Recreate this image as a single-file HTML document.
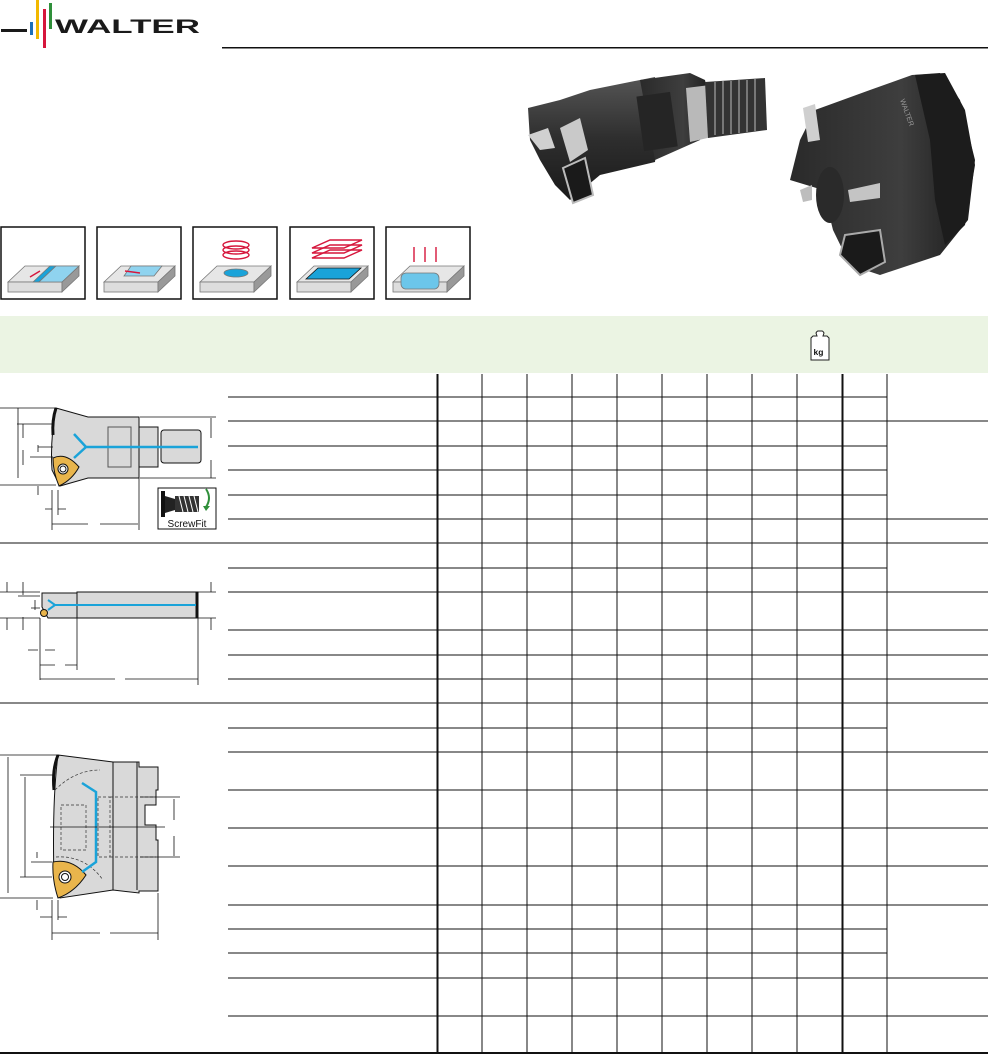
<!DOCTYPE html>
<html><head><meta charset="utf-8"><style>
html,body{margin:0;padding:0;background:#fff;}
body{width:988px;height:1055px;position:relative;overflow:hidden;font-family:"Liberation Sans",sans-serif;}
svg{position:absolute;left:0;top:0;}
</style></head><body>
<svg width="988" height="1055" viewBox="0 0 988 1055" xmlns="http://www.w3.org/2000/svg">
<defs>
<linearGradient id="steel" x1="0" y1="0" x2="0" y2="1"><stop offset="0" stop-color="#555"/><stop offset="0.5" stop-color="#2e2e2e"/><stop offset="1" stop-color="#1a1a1a"/></linearGradient>
<linearGradient id="steel2" x1="0" y1="0" x2="1" y2="0"><stop offset="0" stop-color="#2a2a2a"/><stop offset="0.6" stop-color="#3e3e3e"/><stop offset="1" stop-color="#1b1b1b"/></linearGradient>
<linearGradient id="blk" x1="0" y1="0" x2="0" y2="1"><stop offset="0" stop-color="#f4f4f4"/><stop offset="1" stop-color="#cfcfcf"/></linearGradient>
</defs>
<!-- Logo -->
<rect x="1" y="29" width="26" height="3" fill="#1a1a1a"/>
<rect x="30" y="22" width="3" height="13" fill="#1d6fb8"/>
<rect x="36" y="0" width="3" height="39" fill="#f2b800"/>
<rect x="43" y="9" width="3" height="39" fill="#d6163c"/>
<rect x="49" y="3" width="3" height="26" fill="#2f8f3a"/>
<text x="55" y="33" font-family="Liberation Sans,sans-serif" font-weight="bold" font-size="19" fill="#1a1a1a" textLength="145" lengthAdjust="spacingAndGlyphs">WALTER</text>
<rect x="222" y="47" width="766" height="1.5" fill="#111"/>

<!-- Icons -->
<g stroke="#111" stroke-width="1.5" fill="#fff">
<rect x="1" y="227" width="84" height="72"/><rect x="97" y="227" width="84" height="72"/><rect x="193" y="227" width="84" height="72"/><rect x="290" y="227" width="84" height="72"/><rect x="386" y="227" width="84" height="72"/>
</g>
<g stroke="#777" stroke-width="0.8">
<g transform="translate(0,0)"><polygon points="8,282 25,266 79,266 62,282" fill="#e6e6e6"/><rect x="8" y="282" width="54" height="10" fill="#ddd"/><polygon points="62,282 79,266 79,276 62,292" fill="#999"/><polygon points="33,282 50,266 56,266 39,282" fill="#1aa3d9"/><polygon points="39,282 56,266 79,266 62,282" fill="#8fd3ef"/></g>
<g transform="translate(96,0)"><polygon points="8,282 25,266 79,266 62,282" fill="#e6e6e6"/><rect x="8" y="282" width="54" height="10" fill="#ddd"/><polygon points="62,282 79,266 79,276 62,292" fill="#999"/><polygon points="28,276 35,266 66,266 58,276" fill="#8fd3ef"/></g>
<g transform="translate(192,0)"><polygon points="8,282 25,266 79,266 62,282" fill="#e6e6e6"/><rect x="8" y="282" width="54" height="10" fill="#ddd"/><polygon points="62,282 79,266 79,276 62,292" fill="#999"/><ellipse cx="44" cy="273" rx="12" ry="4" fill="#1aa3d9"/></g>
<g transform="translate(289,0)"><polygon points="8,282 25,266 79,266 62,282" fill="#e6e6e6"/><rect x="8" y="282" width="54" height="10" fill="#ddd"/><polygon points="62,282 79,266 79,276 62,292" fill="#999"/><polygon points="17,279 29,268 72,268 60,279" fill="#1aa3d9" stroke="#111"/></g>
<g transform="translate(385,0)"><polygon points="8,282 25,266 79,266 62,282" fill="#e6e6e6"/><rect x="8" y="282" width="54" height="10" fill="#ddd"/><polygon points="62,282 79,266 79,276 62,292" fill="#999"/><rect x="16" y="273" width="38" height="16" rx="5" fill="#6cc6ea"/></g>
</g>
<g stroke="#d6163c" stroke-width="1.4" fill="none">
<path d="M30 277 L40 271"/><path d="M125 271 L140 273"/>
<ellipse cx="236" cy="245" rx="13" ry="4"/><ellipse cx="236" cy="250" rx="13" ry="4"/><ellipse cx="236" cy="255" rx="13" ry="4"/>
<polygon points="312,248 330,240 362,240 344,248"/><polygon points="312,253 330,245 362,245 344,253"/><polygon points="312,258 330,250 362,250 344,258"/>
<path d="M414 247 V262 M425 247 V262 M436 247 V262"/>
</g>

<!-- Product photo 1 -->
<g>
<polygon points="528,108 560,100 590,90 655,77 660,120 655,162 600,175 570,200 555,185 540,160 530,140" fill="url(#steel)"/>
<polygon points="640,80 690,73 705,80 712,110 700,140 655,160" fill="url(#steel2)"/>
<rect x="640" y="94" width="34" height="55" fill="#252525" transform="rotate(-8 657 121)"/>
<polygon points="686,88 710,85 712,137 690,142" fill="#b9b9b9"/>
<polygon points="705,82 765,78 767,130 708,138" fill="#333"/>
<g stroke="#777" stroke-width="2"><path d="M715 82 V135 M723 81 V134 M731 81 V134 M739 80 V133 M747 80 V132 M755 79 V131"/></g>
<polygon points="528,135 548,128 555,148 540,150" fill="#d0d0d0"/>
<polygon points="560,128 580,118 588,150 570,162" fill="#c9c9c9"/>
<polygon points="563,168 585,158 593,195 573,203" fill="#1a1a1a" stroke="#bbb" stroke-width="2"/>
</g>
<!-- Product photo 2 -->
<g>
<polygon points="815,110 870,90 912,75 940,73 960,100 975,160 968,220 940,255 880,275 850,265 833,230 823,190 790,180 800,140" fill="url(#steel2)"/>
<polygon points="915,75 945,73 965,110 975,165 965,225 945,245 935,200 930,140" fill="#1c1c1c"/>
<ellipse cx="830" cy="195" rx="14" ry="28" fill="#2a2a2a"/>
<polygon points="803,108 815,104 820,140 808,142" fill="#cfcfcf"/>
<polygon points="800,190 812,185 812,200 803,202" fill="#bdbdbd"/>
<polygon points="848,190 880,183 880,198 850,202" fill="#c4c4c4"/>
<polygon points="845,235 880,230 885,262 860,275 840,255" fill="#1a1a1a" stroke="#aaa" stroke-width="2"/>
<text x="900" y="100" font-size="7" fill="#999" transform="rotate(70 900 100)">WALTER</text>
</g>

<!-- Green band -->
<rect x="0" y="316" width="988" height="57" fill="#ebf4e3"/>
<g stroke="#222" stroke-width="1" fill="#fff">
<path d="M811 338 L813 336 H817 L816 333 Q817 331 818 331 H822 Q823 331 824 333 L823 336 H827 L829 338 V360 H811 Z"/>
</g>
<text x="813.5" y="355" font-size="8.5" font-weight="bold" fill="#111">kg</text>

<!-- Table lines -->
<g stroke="#111" stroke-width="1">
<path d="M482 374 V1053 M527 374 V1053 M572 374 V1053 M617 374 V1053 M662 374 V1053 M707 374 V1053 M752 374 V1053 M797 374 V1053 M887 374 V1053"/>
</g>
<g stroke="#111" stroke-width="2"><path d="M437.5 374 V1053 M842.5 374 V1053"/></g>
<g stroke="#111" stroke-width="1">
<!-- rows ending at 887 -->
<path d="M228 397 H887 M228 446 H887 M228 470 H887 M228 495 H887 M228 568 H887 M228 728 H887 M228 929 H887 M228 953 H887"/>
<!-- rows full -->
<path d="M228 421 H988 M228 519 H988 M228 592 H988 M228 630 H988 M228 655 H988 M228 679 H988 M228 752 H988 M228 790 H988 M228 828 H988 M228 866 H988 M228 905 H988 M228 978 H988 M228 1016 H988"/>
<path d="M0 543 H988 M0 703 H988"/>
</g>
<rect x="0" y="1052" width="988" height="2" fill="#111"/>

<!-- Drawing 1 -->
<g stroke="#111" stroke-width="1">
<path d="M56 408 L88 417 H139 V478 H88 L60 486 L52 470 Q50 440 56 408 Z" fill="#d9d9d9"/>
<rect x="139" y="427" width="19" height="40" fill="#d9d9d9"/>
<rect x="161" y="430" width="40" height="33" rx="3" fill="#d9d9d9"/>
<rect x="108" y="427" width="23" height="40" fill="none" stroke="#555"/>
<path d="M53 458 Q66 452 79 467 Q72 480 59 486 Q53 472 53 458Z" fill="#e9b54c"/>
<circle cx="63" cy="469" r="5" fill="#fff"/><circle cx="63" cy="469" r="3" fill="none"/>
<path d="M56 408 Q52 420 53 435" stroke-width="3"/>
</g>
<g stroke="#1aa3d9" stroke-width="2.5" fill="none"><path d="M74 434 L86 447 H198 M74 458 L86 447"/></g>
<g stroke="#111" stroke-width="0.8" fill="none">
<path d="M0 408 H56 M18 408 V478 M0 485 H56 M17 424 H53 M23 424 V438 M30 457 H53 M23 450 V465 M38 447 H53 M38 445 V452 M38 486 V495 M52 490 V530 M58 490 V515 M45 509 H52 M58 509 H66 M52 524 H88 M100 524 H138 M139 478 V530 M140 417 H216 M140 478 H216 M211 418 V438 M211 460 V478"/>
</g>
<rect x="158" y="488" width="58" height="41" fill="#fff" stroke="#111"/>
<rect x="161" y="491" width="4" height="26" fill="#111"/>
<path d="M165 496 L175 499 V510 L165 513 Z" fill="#222"/>
<rect x="175" y="496" width="24" height="16" fill="#333"/>
<g stroke="#fff" stroke-width="1"><path d="M179 496 L183 512 M184 496 L188 512 M189 496 L193 512 M194 496 L198 512"/></g>
<path d="M206 489 Q212 498 206 507" stroke="#2f8f3a" stroke-width="2" fill="none"/><polygon points="203,506 210,506 206,511" fill="#2f8f3a"/>
<text x="187" y="527" font-size="10" text-anchor="middle" fill="#111">ScrewFit</text>

<!-- Drawing 2 -->
<g stroke="#111" stroke-width="1">
<rect x="77" y="592" width="121" height="26" fill="#d9d9d9"/>
<rect x="196" y="592" width="2" height="26" fill="#111"/>
<path d="M42 593 H77 V618 H48 L42 607 Z" fill="#d9d9d9"/>
<circle cx="44" cy="613" r="3.5" fill="#e9b54c"/>
</g>
<g stroke="#1aa3d9" stroke-width="2" fill="none"><path d="M48 600 L55 605 H196 M48 610 L55 605"/></g>
<g stroke="#111" stroke-width="0.8" fill="none">
<path d="M0 592 H40 M0 618 H40 M7 582 V592 M7 618 V630 M23 582 V595 M18 596 H40 M23 617 V630 M35 600 V610 M31 608 H40 M198 592 H216 M198 618 H216 M211 582 V592 M211 618 V630 M40 618 V680 M77 618 V670 M28 650 H38 M45 650 H55 M40 665 H55 M65 665 H77 M40 679 H115 M125 679 H198 M198 618 V685"/>
</g>

<!-- Drawing 3 -->
<g stroke="#111" stroke-width="1">
<path d="M58 755 L113 762 H139 V767 H158 V790 H156 V805 H145 V825 H156 V840 H158 V891 H139 V893 L113 890 L60 898 L54 880 Q52 800 58 755 Z" fill="#d9d9d9"/>
<path d="M113 762 V890 M137 762 V890" fill="none"/>
<path d="M53 862 Q72 858 86 875 Q75 892 58 898 Q52 880 53 862Z" fill="#e9b54c"/>
<circle cx="65" cy="877" r="6" fill="#fff"/><circle cx="65" cy="877" r="3.5" fill="none"/>
<path d="M58 755 Q52 770 54 790" stroke-width="3" fill="none"/>
</g>
<g stroke="#333" stroke-width="0.7" stroke-dasharray="3,2" fill="none">
<rect x="61" y="805" width="25" height="45"/><rect x="98" y="797" width="12" height="60"/><path d="M110 797 H156 M110 857 H156 M55 790 Q75 770 100 770 M56 857 Q85 855 103 880"/>
</g>
<g stroke="#1aa3d9" stroke-width="2.5" fill="none"><path d="M82 783 L96 792 V862 L82 872"/></g>
<g stroke="#111" stroke-width="0.8" fill="none">
<path d="M0 755 H58 M8 757 V893 M0 898 H53 M20 775 H54 M25 777 V877 M20 877 H52 M31 862 H52 M37 852 V858 M37 900 V910 M52 900 V940 M58 900 V920 M40 917 H52 M58 917 H67 M52 933 H100 M110 933 H158 M158 893 V940 M140 797 H180 M140 857 H180 M174 799 V820 M174 836 V856 M50 827 H165"/>
</g>
</svg>
</body></html>
